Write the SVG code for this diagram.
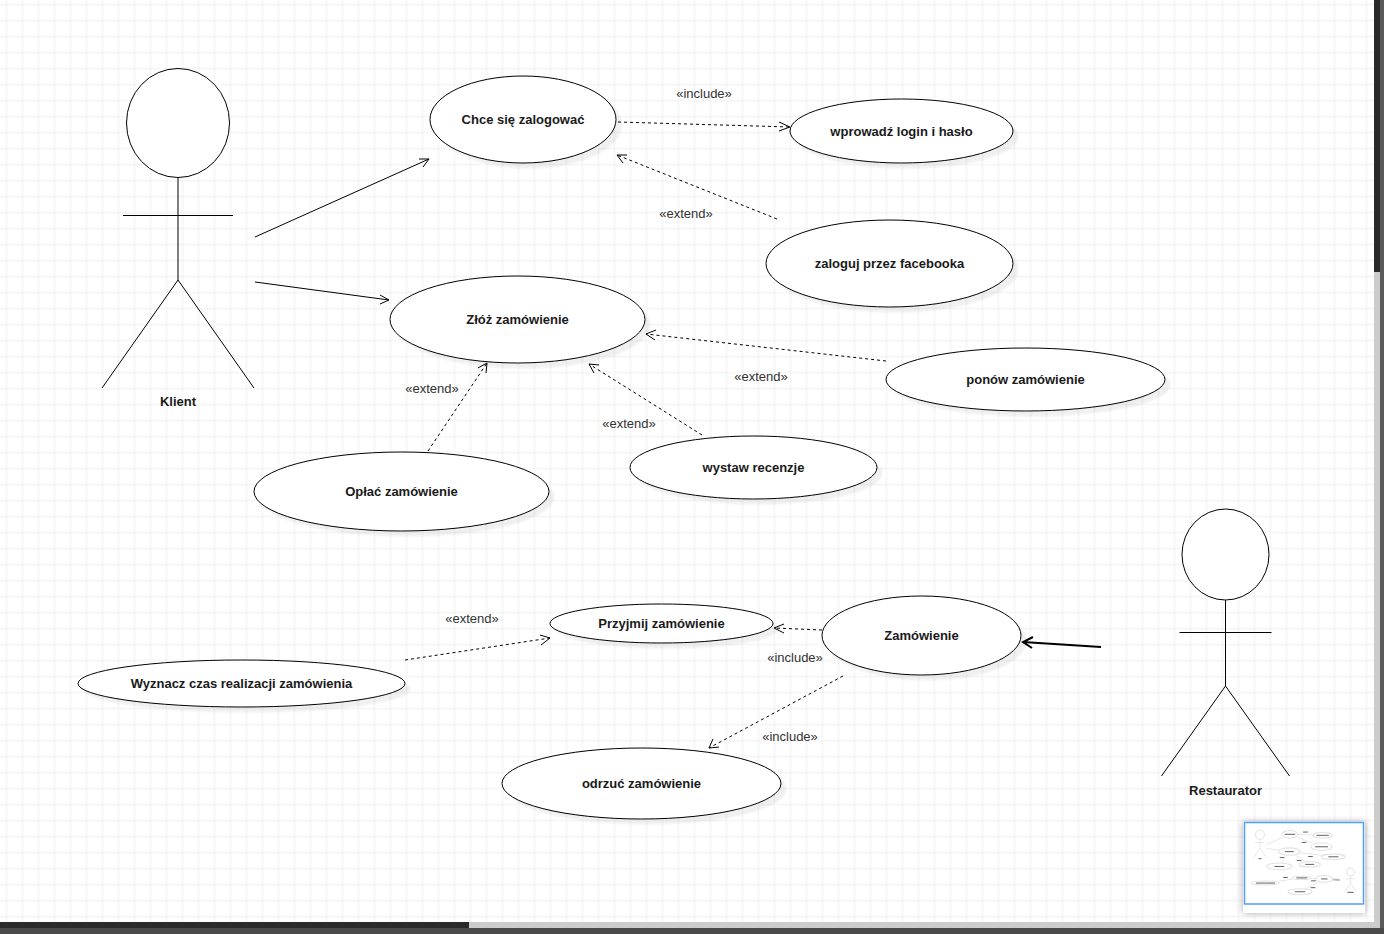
<svg xmlns="http://www.w3.org/2000/svg" width="1384" height="934" viewBox="0 0 1384 934">
<style>
.uc{fill:#fff;stroke:#000;stroke-width:1}
.sh{fill:#000;fill-opacity:.06}
.a{fill:none;stroke:#000;stroke-width:1}
.d{fill:none;stroke:#000;stroke-width:1;stroke-dasharray:3 3}
.h{fill:none;stroke:#000;stroke-width:1}
text{font-family:"Liberation Sans",Arial,sans-serif;font-size:13px;fill:#000;text-anchor:middle;dominant-baseline:central}
.n{font-weight:bold;fill:#1a1a1a}
.l{fill:#333}
.mm{fill:#fff;stroke:#e2e2e2;stroke-width:12}
.ml{fill:none;stroke:#e2e2e2;stroke-width:10}
.mt{fill:#666}
</style>
<defs>
<pattern id="grid" width="16" height="16" patternUnits="userSpaceOnUse" x="-1.5" y="-3.5">
<path d="M8 0V16M0 8H16" stroke="#eee" stroke-width="1" fill="none"/>
</pattern>
<filter id="blur" x="-20%" y="-20%" width="140%" height="140%"><feGaussianBlur stdDeviation="0.8"/></filter>
<filter id="blur2" x="-20%" y="-20%" width="140%" height="140%"><feGaussianBlur stdDeviation="3"/></filter>
<filter id="soft" x="-5%" y="-5%" width="110%" height="110%"><feGaussianBlur stdDeviation="7"/></filter>
</defs>
<rect width="1384" height="934" fill="#fff"/>
<rect width="1374" height="922" fill="url(#grid)"/>
<g id="actor-klient">
<ellipse class="uc" cx="178" cy="123" rx="51.500" ry="54.500"/>
<path class="a" d="M178 177V280M123 215.500H233M178 280L102 388M178 280L254 388"/>
<text class="n" x="178" y="401.500">Klient</text>
</g>
<g id="actor-restaurator">
<ellipse class="uc" cx="1225.500" cy="554.500" rx="43.500" ry="45.500"/>
<path class="a" d="M1225.500 600V686M1179.500 632.500H1271.500M1225.500 686L1161.500 776M1225.500 686L1289.500 776"/>
<text class="n" x="1225.500" y="790.500">Restaurator</text>
</g>
<g id="connectors">
<path class="a" d="M255 237L429 159M419 159L429 159L423 167"/>
<path class="a" d="M255 282L389 300M380 295L389 300L380 304"/>
<path class="d" d="M618 122L790 127"/>
<path class="h" d="M779 122L790 127L779 131"/>
<path class="d" d="M777 219L617 155"/>
<path class="h" d="M627 155L617 155L623 163"/>
<path class="d" d="M886 361L646 334"/>
<path class="h" d="M656 330L646 334L655 340"/>
<path class="d" d="M702 435L589 364"/>
<path class="h" d="M599 365L589 364L594 373"/>
<path class="d" d="M428 451L487 363"/>
<path class="h" d="M478 368L487 363L486 373"/>
<path class="d" d="M405 660L550 638"/>
<path class="h" d="M540 635L550 638L541 645"/>
<path class="d" d="M822 630L774 628"/>
<path class="h" d="M784 624L774 628L784 633"/>
<path class="d" d="M843 676L709 748"/>
<path class="h" d="M713 739L709 748L719 747"/>
<path d="M1101 647L1023 642M1033 637L1023 642L1032 648" fill="none" stroke="#000" stroke-width="2"/>
</g>
<g id="uc-login">
<ellipse class="sh" cx="529" cy="125" rx="93" ry="43.500" filter="url(#blur)"/>
<ellipse class="uc" cx="523" cy="119.500" rx="93" ry="43.500"/>
<text class="n" x="523" y="119.500">Chce się zalogować</text>
</g>
<g id="uc-wprowadz">
<ellipse class="sh" cx="907" cy="136.500" rx="111.500" ry="32" filter="url(#blur)"/>
<ellipse class="uc" cx="901.500" cy="131" rx="111.500" ry="32"/>
<text class="n" x="901.500" y="131.500">wprowadź login i hasło</text>
</g>
<g id="uc-facebook">
<ellipse class="sh" cx="895" cy="269" rx="123.500" ry="43.500" filter="url(#blur)"/>
<ellipse class="uc" cx="889.500" cy="263.500" rx="123.500" ry="43.500"/>
<text class="n" x="889.500" y="263.500">zaloguj przez facebooka</text>
</g>
<g id="uc-zloz">
<ellipse class="sh" cx="523" cy="325" rx="127.500" ry="43.500" filter="url(#blur)"/>
<ellipse class="uc" cx="517.500" cy="319.500" rx="127.500" ry="43.500"/>
<text class="n" x="517.500" y="319.500">Złóż zamówienie</text>
</g>
<g id="uc-ponow">
<ellipse class="sh" cx="1031" cy="385" rx="139.500" ry="31.500" filter="url(#blur)"/>
<ellipse class="uc" cx="1025.500" cy="379.500" rx="139.500" ry="31.500"/>
<text class="n" x="1025.500" y="379.500">ponów zamówienie</text>
</g>
<g id="uc-recenzja">
<ellipse class="sh" cx="759" cy="473" rx="123.500" ry="31.500" filter="url(#blur)"/>
<ellipse class="uc" cx="753.500" cy="467.500" rx="123.500" ry="31.500"/>
<text class="n" x="753.500" y="467.500">wystaw recenzje</text>
</g>
<g id="uc-oplac">
<ellipse class="sh" cx="407" cy="497" rx="147.500" ry="39.500" filter="url(#blur)"/>
<ellipse class="uc" cx="401.500" cy="491.500" rx="147.500" ry="39.500"/>
<text class="n" x="401.500" y="491.500">Opłać zamówienie</text>
</g>
<g id="uc-przyjmij">
<ellipse class="sh" cx="667" cy="629" rx="111.500" ry="19.500" filter="url(#blur)"/>
<ellipse class="uc" cx="661.500" cy="623.500" rx="111.500" ry="19.500"/>
<text class="n" x="661.500" y="623.500">Przyjmij zamówienie</text>
</g>
<g id="uc-zamowienie">
<ellipse class="sh" cx="927" cy="641" rx="99.500" ry="39.500" filter="url(#blur)"/>
<ellipse class="uc" cx="921.500" cy="635.500" rx="99.500" ry="39.500"/>
<text class="n" x="921.500" y="635.500">Zamówienie</text>
</g>
<g id="uc-czas">
<ellipse class="sh" cx="247" cy="689" rx="163.500" ry="23.500" filter="url(#blur)"/>
<ellipse class="uc" cx="241.500" cy="683.500" rx="163.500" ry="23.500"/>
<text class="n" x="241.500" y="683.500">Wyznacz czas realizacji zamówienia</text>
</g>
<g id="uc-odrzuc">
<ellipse class="sh" cx="647" cy="789" rx="139.500" ry="35.500" filter="url(#blur)"/>
<ellipse class="uc" cx="641.500" cy="783.500" rx="139.500" ry="35.500"/>
<text class="n" x="641.500" y="783.500">odrzuć zamówienie</text>
</g>
<g id="labels">
<text class="l" x="704" y="93.500">«include»</text>
<text class="l" x="686" y="213.500">«extend»</text>
<text class="l" x="761" y="376.500">«extend»</text>
<text class="l" x="432" y="388.500">«extend»</text>
<text class="l" x="629" y="423.500">«extend»</text>
<text class="l" x="472" y="618.500">«extend»</text>
<text class="l" x="795" y="657.500">«include»</text>
<text class="l" x="790" y="736.500">«include»</text>
</g>
<g id="scrollbars">
<rect x="1374" y="0" width="6" height="928" fill="#ccc"/>
<rect x="1374" y="0" width="6" height="272" fill="#2a2a2a"/>
<rect x="1380" y="0" width="4" height="934" fill="#5a5a5a"/>
<rect x="0" y="922" width="1374" height="6" fill="#ccc"/>
<rect x="0" y="922" width="469" height="6" fill="#2a2a2a"/>
<rect x="0" y="928" width="1384" height="6" fill="#4a4a4a"/>
</g>
<g id="minimap">
<rect x="1243" y="822" width="122" height="91" fill="#000" fill-opacity=".35" filter="url(#blur2)"/>
<rect x="1243" y="821.500" width="122" height="91.500" fill="#fff"/>
<g transform="translate(1244.600 824) scale(.0865)" filter="url(#soft)">
<path class="ml" d="M178 177V280M123 215H233M178 280L102 388M178 280L254 388M1225 600V686M1179 632H1271M1225 686L1161 776M1225 686L1289 776M255 237L429 159M255 282L389 300M618 122L790 127M777 219L617 155M886 361L646 334M702 435L589 364M428 451L487 363M405 660L550 638M822 630L774 628M843 676L709 748"/>
<path d="M1023 642L1101 647" fill="none" stroke="#bbb" stroke-width="24"/>
<ellipse class="mm" cx="178" cy="123" rx="51" ry="54"/>
<ellipse class="mm" cx="1225" cy="554" rx="43" ry="45"/>
<ellipse class="mm" cx="523" cy="119" rx="93" ry="43"/>
<ellipse class="mm" cx="901" cy="131" rx="111" ry="32"/>
<ellipse class="mm" cx="889" cy="263" rx="123" ry="43"/>
<ellipse class="mm" cx="517" cy="319" rx="127" ry="43"/>
<ellipse class="mm" cx="1025" cy="379" rx="139" ry="31"/>
<ellipse class="mm" cx="753" cy="467" rx="123" ry="31"/>
<ellipse class="mm" cx="401" cy="491" rx="147" ry="39"/>
<ellipse class="mm" cx="661" cy="623" rx="111" ry="19"/>
<ellipse class="mm" cx="921" cy="635" rx="99" ry="39"/>
<ellipse class="mm" cx="241" cy="683" rx="163" ry="23"/>
<ellipse class="mm" cx="641" cy="783" rx="139" ry="35"/>
<g class="mt">
<rect x="461" y="113" width="124" height="12"/><rect x="830" y="125" width="143" height="12"/><rect x="815" y="257" width="150" height="12"/><rect x="466" y="313" width="103" height="12"/><rect x="967" y="373" width="118" height="12"/><rect x="702" y="461" width="102" height="12"/><rect x="345" y="485" width="113" height="12"/><rect x="598" y="617" width="127" height="12"/><rect x="884" y="629" width="75" height="12"/><rect x="130" y="677" width="222" height="12"/><rect x="582" y="777" width="119" height="12"/><rect x="160" y="395" width="36" height="12"/><rect x="1189" y="784" width="73" height="12"/><rect x="677" y="87" width="55" height="12"/><rect x="660" y="207" width="53" height="12"/><rect x="735" y="370" width="53" height="12"/><rect x="406" y="382" width="53" height="12"/><rect x="603" y="417" width="53" height="12"/><rect x="446" y="612" width="53" height="12"/><rect x="768" y="651" width="55" height="12"/><rect x="763" y="730" width="55" height="12"/>
</g>
</g>
<rect x="1244.500" y="822.500" width="119" height="81.500" fill="none" stroke="#4d9fff" stroke-width="1.500"/>
</g>
</svg>
